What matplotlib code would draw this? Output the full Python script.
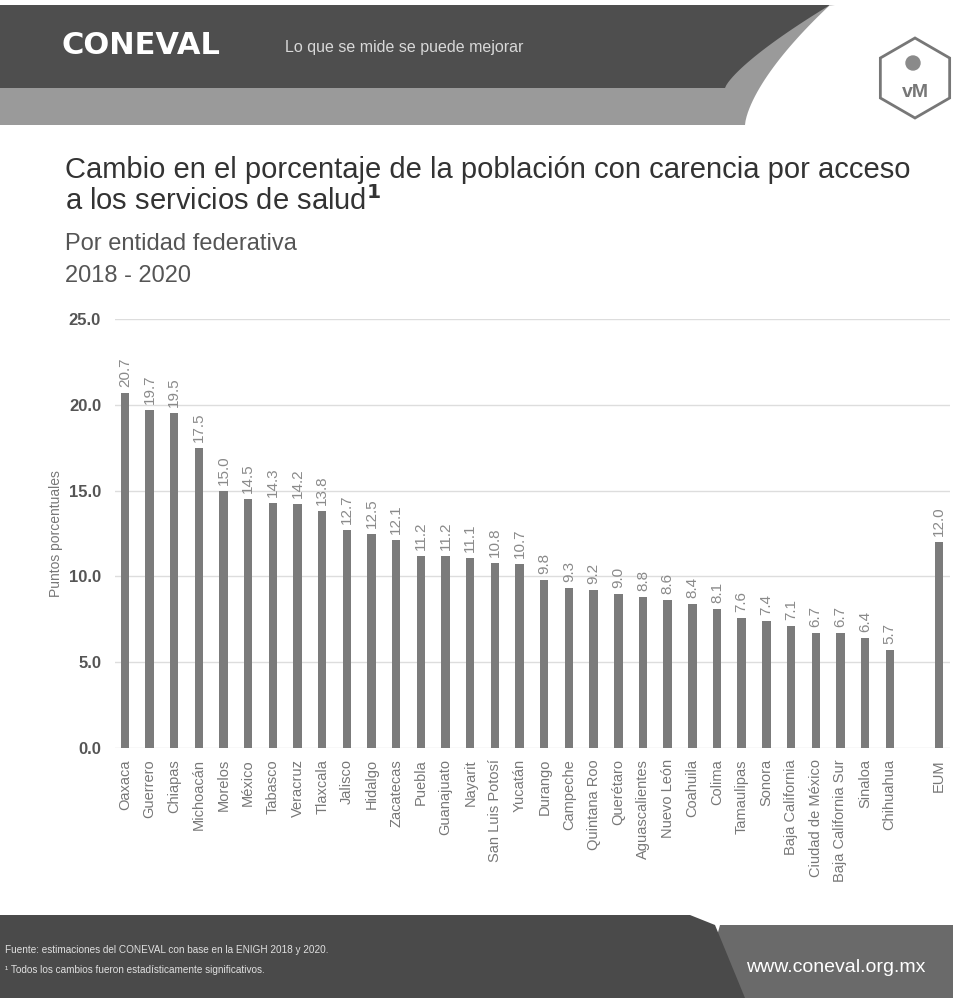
import numpy as np
import matplotlib.pyplot as plt
from matplotlib.patches import Polygon, RegularPolygon, Circle

# data
estados = ['Oaxaca', 'Guerrero', 'Chiapas', 'Michoacán', 'Morelos', 'México',
           'Tabasco', 'Veracruz', 'Tlaxcala', 'Jalisco', 'Hidalgo', 'Zacatecas',
           'Puebla', 'Guanajuato', 'Nayarit', 'San Luis Potosí', 'Yucatán',
           'Durango', 'Campeche', 'Quintana Roo', 'Querétaro', 'Aguascalientes',
           'Nuevo León', 'Coahuila', 'Colima', 'Tamaulipas', 'Sonora',
           'Baja California', 'Ciudad de México', 'Baja California Sur',
           'Sinaloa', 'Chihuahua']
valores = [20.7, 19.7, 19.5, 17.5, 15.0, 14.5, 14.3, 14.2, 13.8, 12.7, 12.5,
           12.1, 11.2, 11.2, 11.1, 10.8, 10.7, 9.8, 9.3, 9.2, 9.0, 8.8, 8.6,
           8.4, 8.1, 7.6, 7.4, 7.1, 6.7, 6.7, 6.4, 5.7]
nacional = ['EUM']
valor_nacional = [12.0]
yticks = [0, 5, 10, 15, 20, 25]

labels = estados + nacional
vals = valores + valor_nacional
pos = list(range(len(estados))) + [len(estados) + 1]

plt.rcParams['font.family'] = ['Liberation Sans', 'DejaVu Sans']

W, H = 954, 998
fig = plt.figure(figsize=(W / 100, H / 100), dpi=100)

# background: header / footer bands drawn in pixel coordinates
bg = fig.add_axes([0, 0, 1, 1], zorder=-1)
bg.set_xlim(0, W)
bg.set_ylim(H, 0)
bg.axis('off')

t = np.linspace(0, 1, 30)
curve_x = 745 + 85 * (t ** 1.5)
curve_y = 125 - 120 * t
bg.add_patch(Polygon([(0, 85), (0, 125)] + list(zip(curve_x, curve_y)) + [(835, 5)],
                     closed=True, color='#9a9a9a', lw=0))
cx = 725 + 105 * (t ** 1.3)
cy = 88 - 83 * t
bg.add_patch(Polygon([(0, 5), (0, 88)] + list(zip(cx, cy)) + [(830, 5)],
                     closed=True, color='#4e4e4e', lw=0))
bg.text(62, 45, 'CONEVAL', color='white', fontsize=22, fontweight='bold',
        family='DejaVu Sans', va='center', ha='left')
bg.text(285, 47, 'Lo que se mide se puede mejorar', color='#d8d8d8',
        fontsize=11.5, va='center', ha='left')
bg.add_patch(RegularPolygon((915, 78), numVertices=6, radius=40, orientation=0,
                            fill=False, ec='#777777', lw=2))
bg.add_patch(Circle((913, 63), 7, color='#8a8a8a'))
bg.text(915, 92, 'vM', color='#777777', fontsize=14, fontweight='bold',
        ha='center', va='center')

# footer
bg.add_patch(Polygon([(700, 998), (720, 925), (954, 925), (954, 998)],
                     closed=True, color='#6a6a6a', lw=0))
bg.add_patch(Polygon([(0, 915), (690, 915), (715, 925), (745, 998), (0, 998)],
                     closed=True, color='#4a4a4a', lw=0))
bg.text(5, 950, 'Fuente: estimaciones del CONEVAL con base en la ENIGH 2018 y 2020.',
        color='#e0e0e0', fontsize=7.2, va='center')
bg.text(5, 970, '¹ Todos los cambios fueron estadísticamente significativos.',
        color='#e0e0e0', fontsize=7.2, va='center')
bg.text(925, 968, 'www.coneval.org.mx', color='white', fontsize=14,
        va='center', ha='right')

# titles
bg.text(65, 178, 'Cambio en el porcentaje de la población con carencia por acceso',
        fontsize=21, color='#333333', va='baseline')
bg.text(65, 210, 'a los servicios de salud$^\\mathbf{1}$', fontsize=21, color='#333333',
        va='baseline')
bg.text(65, 250, 'Por entidad federativa', fontsize=17, color='#555555',
        va='baseline')
bg.text(65, 282, '2018 - 2020', fontsize=17, color='#555555',
        va='baseline')

# chart
ax = fig.add_axes([0.1205, 0.2505, 0.8755, 0.4298])
ax.patch.set_alpha(0)
ax.bar(pos, vals, width=0.34, color='#7b7b7b', zorder=3)
for p, v in zip(pos, vals):
    ax.text(p, v + 0.35, f'{v:.1f}', rotation=90, ha='center', va='bottom',
            fontsize=11, color='#8a8a8a')

ax.set_ylim(0, 25)
ax.set_xlim(-0.4, pos[-1] + 0.45)
ax.set_yticks(yticks)
ax.set_yticklabels([f'{v:.1f}' for v in yticks], fontsize=12, fontweight='bold',
                   color='#555555')
ax.set_xticks(pos)
ax.set_xticklabels(labels, rotation=90, fontsize=10.5, color='#777777')
ax.tick_params(length=0, pad=8)
ax.tick_params(axis='y', pad=10)
ax.grid(axis='y', color='#dddddd', lw=1, zorder=0)
for s in ax.spines.values():
    s.set_visible(False)
ax.set_ylabel('Puntos porcentuales', fontsize=10, color='#777777', labelpad=4)

fig.savefig('out.png', dpi=100)
